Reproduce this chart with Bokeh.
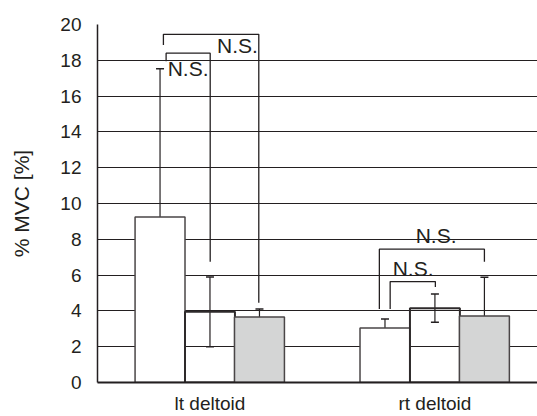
from bokeh.plotting import figure
from bokeh.models import FixedTicker, Range1d, Whisker, ColumnDataSource, TeeHead
from bokeh.core.properties import value
from bokeh.embed import file_html
from bokeh.resources import INLINE

# ---- data ----
groups = ["lt deltoid", "rt deltoid"]
group_x = [1, 2]
offsets = [-0.222, 0.0, 0.22]
mean_a = [9.25, 3.05]
err_a = [8.28, 0.5]
mean_b = [3.95, 4.15]
err_b = [1.95, 0.79]
mean_c = [3.66, 3.72]
err_c = [0.44, 2.16]
y_ticks = [0, 2, 4, 6, 8, 10, 12, 14, 16, 18, 20]

# significance brackets (x in group units, y in % MVC)
bracket_xs = [[0.793, 0.793, 1.217, 1.217],
              [0.805, 0.805, 1.001, 1.001],
              [1.753, 1.753, 2.220, 2.220],
              [1.801, 1.801, 2.002, 2.002]]
bracket_ys = [[18.85, 19.45, 19.45, 4.45],
              [17.95, 18.40, 18.40, 6.75],
              [4.10, 7.45, 7.45, 6.75],
              [4.10, 5.64, 5.64, 5.33]]
ns_text = ["N.S.", "N.S.", "N.S.", "N.S."]
ns_x = [1.213, 0.812, 2.005, 1.903]
ns_y = [18.85, 17.55, 8.2, 6.35]
ns_align = ["right", "left", "center", "center"]

DARK = "#231f20"
FONT = "Liberation Sans"

p = figure(width=537, height=416, output_backend="svg", toolbar_location=None,
           x_range=Range1d(0.5, 2.456), y_range=Range1d(0, 20),
           min_border_left=97, min_border_right=0, min_border_top=24,
           min_border_bottom=33)
p.outline_line_color = None
p.background_fill_color = "white"

bar_w = 0.222
fills = ["white", None, "#d4d5d5"]
means = [mean_a, mean_b, mean_c]
errs = [err_a, err_b, err_c]
for k in range(3):
    xs = [g + offsets[k] for g in group_x]
    m = means[k]
    e = errs[k]
    src = ColumnDataSource(dict(x=xs, top=m,
                                lo=[mm - ee for mm, ee in zip(m, e)],
                                hi=[mm + ee for mm, ee in zip(m, e)]))
    if fills[k] is None:
        p.vbar(x="x", top="top", width=bar_w, bottom=0, source=src,
               fill_alpha=0, line_color="#2e2a2b", line_width=2)
    else:
        p.vbar(x="x", top="top", width=bar_w, bottom=0, source=src,
               fill_color=fills[k], line_color="#4a4647", line_width=1.5)
    w = Whisker(base="x", upper="hi", lower="lo", source=src, dimension="height",
                line_color=DARK, line_width=1.2,
                upper_head=TeeHead(size=8, line_color=DARK, line_width=1.5),
                lower_head=TeeHead(size=8, line_color=DARK, line_width=1.5))
    p.add_layout(w)

p.multi_line(xs=bracket_xs, ys=bracket_ys, line_color=DARK, line_width=1.3)
tsrc = ColumnDataSource(dict(x=ns_x, y=ns_y, t=ns_text, a=ns_align))
p.text(x="x", y="y", text="t", text_align="a", text_baseline="alphabetic",
       text_font=value(FONT), text_font_size="21px", text_color=DARK, source=tsrc)

# axes
p.yaxis.ticker = FixedTicker(ticks=y_ticks)
p.yaxis.major_tick_line_color = None
p.yaxis.minor_tick_line_color = None
p.yaxis.major_tick_out = 0
p.yaxis.major_label_standoff = 16
p.yaxis.major_label_text_font = FONT
p.yaxis.major_label_text_font_size = "19px"
p.yaxis.major_label_text_color = DARK
p.yaxis.axis_line_color = DARK
p.yaxis.axis_line_width = 1.5
p.yaxis.axis_label = "% MVC [%]"
p.yaxis.axis_label_text_font = FONT
p.yaxis.axis_label_text_font_size = "21px"
p.yaxis.axis_label_text_font_style = "normal"
p.yaxis.axis_label_text_color = DARK
p.yaxis.axis_label_standoff = 24

p.xaxis.ticker = FixedTicker(ticks=group_x)
p.xaxis.major_label_overrides = {gx: g for gx, g in zip(group_x, groups)}
p.xaxis.major_tick_line_color = None
p.xaxis.minor_tick_line_color = None
p.xaxis.major_tick_out = 0
p.xaxis.major_label_standoff = 10
p.xaxis.major_label_text_font = FONT
p.xaxis.major_label_text_font_size = "19px"
p.xaxis.major_label_text_color = DARK
p.xaxis.axis_line_color = DARK
p.xaxis.axis_line_width = 2

p.xgrid.grid_line_color = None
p.ygrid.ticker = FixedTicker(ticks=y_ticks)
p.ygrid.grid_line_color = DARK
p.ygrid.grid_line_width = 1.2

open("out.html", "w").write(file_html(p, INLINE))
